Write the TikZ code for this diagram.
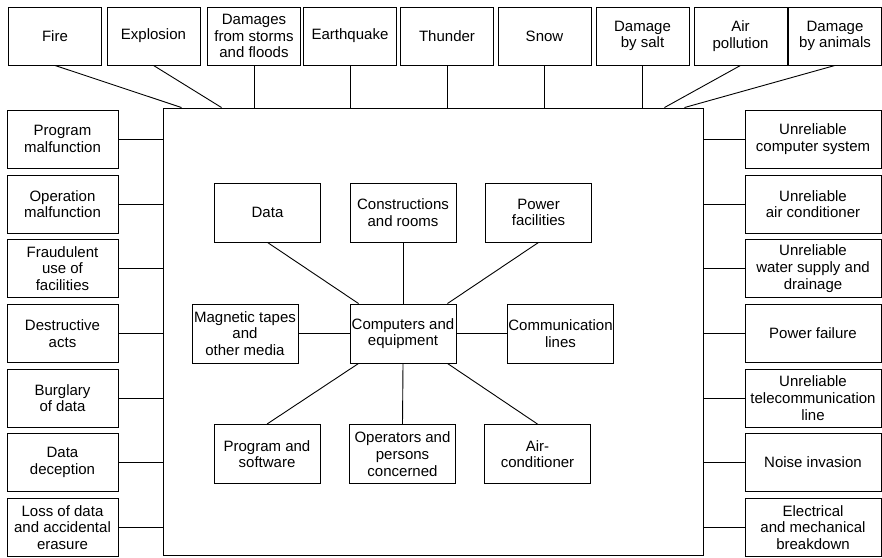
\documentclass[tikz,border=0pt]{standalone}
\usepackage{fontspec}
\setmainfont{Liberation Sans}

\begin{document}
\begin{tikzpicture}[x=1pt,y=-1pt,
    box/.style={draw, line width=0.9pt, align=center, inner sep=1pt, font=\fontsize{15}{16.7}\selectfont},
    topbox/.style={box, minimum width=93pt, minimum height=58pt},
    leftbox/.style={box, minimum width=111pt, minimum height=58pt},
    rightbox/.style={box, minimum width=136pt, minimum height=58pt},
    asset/.style={box, minimum width=106pt, minimum height=59pt},
    link/.style={line width=0.9pt}]
    \useasboundingbox (0,0) rectangle (882,557);

    % computer centre
    \node[draw, line width=0.9pt, minimum width=540pt, minimum height=447pt, inner sep=0pt] (site) at (433,331.5) {};

    % top row: natural hazards
    \node[topbox] (fire) at (55,36) {Fire};
    \node[topbox] (explosion) at (153.5,36) {Explosion};
    \node[topbox] (storms) at (254,36) {Damages\\from storms\\and floods};
    \node[topbox] (quake) at (350,36) {Earthquake};
    \node[topbox] (thunder) at (447,36) {Thunder};
    \node[topbox] (snow) at (544.5,36) {Snow};
    \node[topbox] (salt) at (642.5,36) {Damage\\by salt};
    \node[topbox] (pollution) at (740.5,36) {Air\\pollution};
    \node[topbox] (animals) at (835,36) {Damage\\by animals};

    % left column: human hazards
    \node[leftbox] (progfail) at (62.5,139) {Program\\malfunction};
    \node[leftbox] (opfail) at (62.5,204) {Operation\\malfunction};
    \node[leftbox] (fraud) at (62.5,268.5) {Fraudulent\\use of\\facilities};
    \node[leftbox] (destruct) at (62.5,333.5) {Destructive\\acts};
    \node[leftbox] (burglary) at (62.5,398) {Burglary\\of data};
    \node[leftbox] (deception) at (62.5,462.5) {Data\\deception};
    \node[leftbox] (erasure) at (62.5,527.5) {Loss of data\\and accidental\\erasure};

    % right column: technical hazards
    \node[rightbox] (compsys) at (813,139) {Unreliable\\computer system};
    \node[rightbox] (aircond) at (813,204) {Unreliable\\air conditioner};
    \node[rightbox] (water) at (813,268.5) {Unreliable\\water supply and\\drainage};
    \node[rightbox] (powerfail) at (813,333.5) {Power failure};
    \node[rightbox] (telecom) at (813,398) {Unreliable\\telecommunication\\line};
    \node[rightbox] (noise) at (813,462.5) {Noise invasion};
    \node[rightbox] (breakdown) at (813,527.5) {Electrical\\and mechanical\\breakdown};

    % inner assets
    \node[asset] (data) at (267.5,212.5) {Data};
    \node[asset] (rooms) at (403,212.5) {Constructions\\and rooms};
    \node[asset] (powerfac) at (538.5,212.5) {Power\\facilities};
    \node[asset] (media) at (245,333.5) {Magnetic tapes\\and\\other media};
    \node[asset] (comp) at (403,333.5) {Computers and\\equipment};
    \node[asset] (lines) at (560.5,333.5) {Communication\\lines};
    \node[asset] (software) at (267,454) {Program and\\software};
    \node[asset] (operators) at (402.5,454) {Operators and\\persons\\concerned};
    \node[asset] (aircon) at (537.5,454) {Air-\\conditioner};

    % top connectors
    \draw[link] (fire.south) -- ([xshift=19pt]site.north west);
    \draw[link] (explosion.south) -- ([xshift=59pt]site.north west);
    \draw[link] (storms.south) -- (storms.south |- site.north);
    \draw[link] (quake.south) -- (quake.south |- site.north);
    \draw[link] (thunder.south) -- (thunder.south |- site.north);
    \draw[link] (snow.south) -- (snow.south |- site.north);
    \draw[link] (salt.south) -- (salt.south |- site.north);
    \draw[link] (pollution.south) -- ([xshift=-39pt]site.north east);
    \draw[link] (animals.south) -- ([xshift=-19pt]site.north east);

    % side connectors
    \draw[link] (progfail.east) -- (progfail.east -| site.west);
    \draw[link] (opfail.east) -- (opfail.east -| site.west);
    \draw[link] (fraud.east) -- (fraud.east -| site.west);
    \draw[link] (destruct.east) -- (destruct.east -| site.west);
    \draw[link] (burglary.east) -- (burglary.east -| site.west);
    \draw[link] (deception.east) -- (deception.east -| site.west);
    \draw[link] (erasure.east) -- (erasure.east -| site.west);
    \draw[link] (compsys.west) -- (compsys.west -| site.east);
    \draw[link] (aircond.west) -- (aircond.west -| site.east);
    \draw[link] (water.west) -- (water.west -| site.east);
    \draw[link] (powerfail.west) -- (powerfail.west -| site.east);
    \draw[link] (telecom.west) -- (telecom.west -| site.east);
    \draw[link] (noise.west) -- (noise.west -| site.east);
    \draw[link] (breakdown.west) -- (breakdown.west -| site.east);

    % star around computers
    \draw[link] (data.south) -- ([xshift=9pt]comp.north west);
    \draw[link] (rooms.south) -- (comp.north);
    \draw[link] (powerfac.south) -- ([xshift=-9pt]comp.north east);
    \draw[link] (media.east) -- (comp.west);
    \draw[link] (lines.west) -- (comp.east);
    \draw[link] (software.north) -- ([xshift=9pt]comp.south west);
    \draw[link] (operators.north) -- (comp.south);
    \draw[link] (aircon.north) -- ([xshift=-9pt]comp.south east);
\end{tikzpicture}
\end{document}
